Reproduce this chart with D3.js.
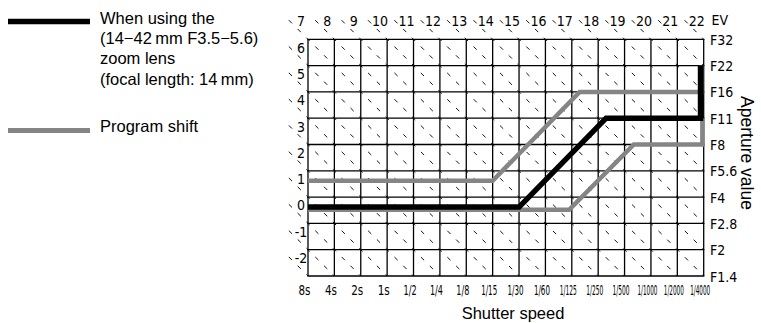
<!DOCTYPE html>
<html>
<head>
<meta charset="utf-8">
<script src="https://cdn.jsdelivr.net/npm/d3@7"></script>
<style>
  body { margin: 0; background: #fff; }
  svg { display: block; }
  .lbl { font-family: "Liberation Sans Narrow", "DejaVu Sans Condensed", sans-serif; font-size: 14px; fill: #000; }
  .big { font-family: "Liberation Sans", Arial, sans-serif; font-size: 16.5px; fill: #000; }
</style>
</head>
<body>
<div class="vis"></div>
<script>
// shutter speeds on the bottom (one per vertical grid line)
const shutterLabels = ["8s", "4s", "2s", "1s", "1/2", "1/4", "1/8", "1/15", "1/30", "1/60", "1/125", "1/250", "1/500", "1/1000", "1/2000", "1/4000"];
// apertures on the right, from bottom to top
const apertureLabels = ["F1.4", "F2", "F2.8", "F4", "F5.6", "F8", "F11", "F16", "F22", "F32"];
// EV numbers on the diagonals
const evTop = [7, 8, 9, 10, 11, 12, 13, 14, 15, 16, 17, 18, 19, 20, 21, 22];
const evLeft = [6, 5, 4, 3, 2, 1, 0, -1, -2];

// program lines: [shutter step, aperture step]  (0 = 8s / F1.4)
const lensLine = [[0, 2.62], [8, 2.62], [11.3, 6], [14.88, 6], [14.88, 8]];
const shiftUp = [[0, 3.62], [7, 3.62], [10.3, 7], [14.9, 7], [14.9, 8]];
const shiftDown = [[0, 2.52], [9.9, 2.52], [12.35, 5], [14.95, 5], [14.95, 6]];

const legendLabels = [
  ["When using the", "(14\u221242\u2009mm F3.5\u22125.6)", "zoom lens", "(focal length: 14\u2009mm)"],
  ["Program shift"]
];

const W = 761, H = 323;
const svg = d3.select(".vis").append("svg").attr("width", W).attr("height", H);

const x = d3.scaleLinear().domain([0, 15]).range([308, 703.7]);
const y = d3.scaleLinear().domain([0, 9]).range([276, 39.3]);
const cell = x(1) - x(0);

// Diagonale EV-linjer (stiplede)
const diag = Math.sqrt(2) * cell;
const dashLen = 4.5, period = diag / 3;
const ext = 0.9;

function evLine(e) {
  const s = e + 2; // i + j = s
  const entry = s <= 9 ? [0, s] : [s - 9, 9];
  const exit = s <= 15 ? [s, 0] : [15, s - 15];
  return { e, entry, exit, start: [entry[0] - ext, entry[1] + ext] };
}

const evs = evTop.concat(evLeft).map(evLine);

svg.append("g")
  .selectAll("line")
  .data(evs)
  .enter()
  .append("line")
  .attr("x1", (d) => x(d.start[0]))
  .attr("y1", (d) => y(d.start[1]))
  .attr("x2", (d) => x(d.exit[0]))
  .attr("y2", (d) => y(d.exit[1]))
  .attr("stroke", "#111")
  .attr("stroke-width", 1)
  .attr("stroke-dasharray", dashLen + "," + (period - dashLen))
  .attr("stroke-dashoffset", () => {
    // dash centred on the grid corners
    const s0 = ext * diag - dashLen / 2;
    return -(((s0 % period) + period) % period) + period;
  });

// Gitter
svg.append("g")
  .selectAll("line")
  .data(d3.range(16))
  .enter()
  .append("line")
  .attr("x1", (d) => x(d)).attr("x2", (d) => x(d))
  .attr("y1", y(0)).attr("y2", y(9))
  .attr("stroke", "#000").attr("stroke-width", 1.3);

svg.append("g")
  .selectAll("line")
  .data(d3.range(10))
  .enter()
  .append("line")
  .attr("y1", (d) => y(d)).attr("y2", (d) => y(d))
  .attr("x1", x(0) - 0.65).attr("x2", x(15) + 0.65)
  .attr("stroke", "#000").attr("stroke-width", 1.3);

// EV tal
svg.append("g")
  .selectAll("text")
  .data(evs)
  .enter()
  .append("text")
  .attr("class", "lbl")
  .attr("x", (d) => x(d.entry[0]) - 7)
  .attr("y", (d) => y(d.entry[1]) - 13)
  .attr("text-anchor", "middle")
  .text((d) => (d.e < 0 ? "-" + Math.abs(d.e) : d.e));

svg.append("text").attr("class", "lbl").attr("x", 711.5).attr("y", 25).text("EV");

// Blændetal til højre
svg.append("g")
  .selectAll("text")
  .data(apertureLabels)
  .enter()
  .append("text")
  .attr("class", "lbl")
  .attr("x", 710)
  .attr("y", (d, i) => y(i) + 5.5)
  .text((d) => d);

// Lukkertider i bunden - presses vandret sammen så de ikke rammer hinanden
const maxWidth = { 2: 12, 3: 13, 4: 16, 5: 17, 6: 20 };
svg.append("g")
  .selectAll("text")
  .data(shutterLabels)
  .enter()
  .append("text")
  .attr("class", "lbl")
  .attr("text-anchor", "middle")
  .text((d) => d)
  .attr("transform", function (d, i) {
    const w = this.getComputedTextLength();
    const sx = Math.min(1, maxWidth[d.length] / w);
    return "translate(" + (x(i) - 3.5) + ",295) scale(" + sx + ",1)";
  });

// Akse titler
svg.append("text")
  .attr("class", "big")
  .attr("text-anchor", "middle")
  .attr("x", 513)
  .attr("y", 319)
  .text("Shutter speed");

svg.append("text")
  .attr("class", "big")
  .style("font-size", "17.5px")
  .attr("text-anchor", "middle")
  .attr("transform", "translate(741,153) rotate(90)")
  .text("Aperture value");

// Programlinjerne
const line = d3.line().x((d) => x(d[0])).y((d) => y(d[1]));

[shiftDown, shiftUp].forEach((pts) => {
  svg.append("path")
    .datum(pts)
    .attr("fill", "none")
    .attr("stroke", "#858585")
    .attr("stroke-width", 4.5)
    .attr("d", line);
});

svg.append("path")
  .datum(lensLine)
  .attr("fill", "none")
  .attr("stroke", "#000")
  .attr("stroke-width", 5.5)
  .attr("d", line);

// Signaturforklaring
const legend = svg.append("g");
legend.append("line")
  .attr("x1", 8).attr("x2", 90).attr("y1", 21.5).attr("y2", 21.5)
  .attr("stroke", "#000").attr("stroke-width", 5.5);
legend.append("line")
  .attr("x1", 8).attr("x2", 90).attr("y1", 130.5).attr("y2", 130.5)
  .attr("stroke", "#858585").attr("stroke-width", 5);

legend.append("text")
  .attr("class", "big")
  .selectAll("tspan")
  .data(legendLabels[0])
  .enter()
  .append("tspan")
  .attr("x", 100)
  .attr("y", (d, i) => 23.5 + i * 20.4)
  .text((d) => d);

legend.append("text")
  .attr("class", "big")
  .attr("x", 100)
  .attr("y", 132)
  .text(legendLabels[1][0]);
</script>
</body>
</html>
